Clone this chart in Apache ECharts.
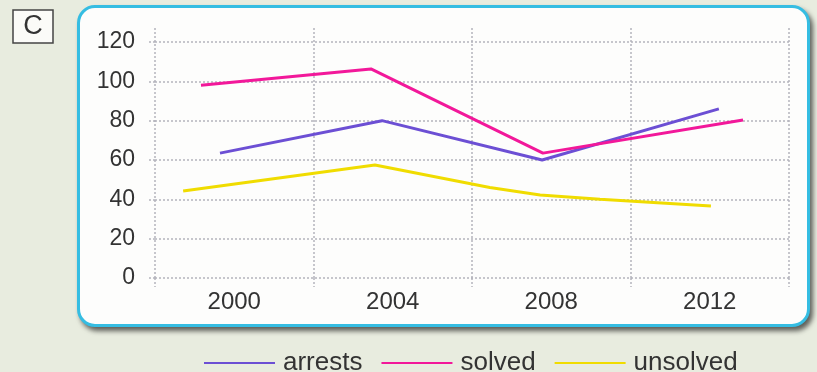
<!DOCTYPE html>
<html>
<head>
<meta charset="utf-8">
<script src="https://cdn.jsdelivr.net/npm/echarts@6/dist/echarts.min.js"></script>
<style>
  html, body { margin: 0; padding: 0; background: #e8ecdf; }
  #card {
    position: absolute; left: 77px; top: 5px; width: 727px; height: 316px;
    background: #fdfdfc; border: 3.5px solid #35bde2; border-radius: 18px;
    box-shadow: 3px 4px 5px rgba(0, 0, 0, 0.6);
  }
  #chart { position: absolute; left: 0; top: 0; width: 817px; height: 372px; }
</style>
</head>
<body>
<div id="card"></div>
<div id="chart"></div>
<script>
// year labels and y ticks
var years = ['2000', '2004', '2008', '2012'];
var yMin = 0, yMax = 120, yStep = 20;

// points (x in years, y in value)
var arrestsX = [1999.64, 2003.73, 2007.77, 2012.23];
var arrestsY = [63.5, 80, 60, 86];
var solvedX = [1999.16, 2003.45, 2007.79, 2012.84];
var solvedY = [98, 106.3, 63.5, 80.3];
var unsolvedX = [1998.71, 2003.55, 2006.45, 2007.72, 2009.23, 2012.03];
var unsolvedY = [44.2, 57.5, 46, 42.2, 40, 36.6];

function pairs(xs, ys) {
    return xs.map(function (x, i) { return [x, ys[i]]; });
}

var gridColor = '#b4b4bc';
var font = 'Liberation Sans, Arial, sans-serif';

var chart = echarts.init(document.getElementById('chart'));
var option = {
    backgroundColor: 'transparent',
    animation: false,
    textStyle: { fontFamily: font },
    graphic: [{
        type: 'rect',
        shape: { x: 13, y: 10, width: 40, height: 33 },
        style: { fill: '#fbfbf8', stroke: '#444', lineWidth: 1.5 }
    }, {
        type: 'text',
        style: {
            x: 33, y: 27, text: 'C', fill: '#333', font: '27px Liberation Sans',
            textAlign: 'center', textVerticalAlign: 'middle'
        }
    }],
    legend: {
        data: ['arrests', 'solved', 'unsolved'],
        left: 199,
        top: 345,
        icon: 'rect',
        itemWidth: 71,
        itemHeight: 2,
        itemGap: 19,
        textStyle: { fontSize: 26, color: '#333', fontFamily: font, padding: [0, 0, 0, 3] }
    },
    grid: [
        { left: 155, right: 28, top: 42, bottom: 94 },
        { left: 155, right: 28, top: 28, bottom: 94 }
    ],
    xAxis: [{
        type: 'value',
        gridIndex: 0,
        min: 1998,
        max: 2014,
        show: false
    }, {
        type: 'category',
        gridIndex: 1,
        data: years,
        boundaryGap: true,
        axisLine: { show: false },
        axisTick: { show: true, length: 9, lineStyle: { color: gridColor, width: 1.5, type: [2, 2] } },
        axisLabel: { fontSize: 24, color: '#333', margin: 12, fontFamily: font },
        splitLine: { show: true, lineStyle: { color: gridColor, width: 1.5, type: [2, 2] } }
    }],
    yAxis: [{
        type: 'value',
        gridIndex: 0,
        min: yMin,
        max: yMax,
        interval: yStep,
        axisLine: { show: false },
        axisTick: { show: true, length: 8, lineStyle: { color: gridColor, width: 1.5, type: [2, 2] } },
        axisLabel: { fontSize: 23, color: '#333', margin: 20, fontFamily: font },
        splitLine: { lineStyle: { color: gridColor, width: 1.5, type: [2, 2] } }
    }, {
        type: 'value',
        gridIndex: 1,
        show: false
    }],
    series: [{
        name: 'arrests',
        type: 'line',
        data: pairs(arrestsX, arrestsY),
        showSymbol: false,
        color: '#6c4fd4',
        lineStyle: { width: 3 }
    }, {
        name: 'solved',
        type: 'line',
        data: pairs(solvedX, solvedY),
        showSymbol: false,
        color: '#f2189a',
        lineStyle: { width: 3 }
    }, {
        name: 'unsolved',
        type: 'line',
        data: pairs(unsolvedX, unsolvedY),
        showSymbol: false,
        color: '#f0dc00',
        lineStyle: { width: 3 }
    }]
};
chart.setOption(option);
</script>
</body>
</html>
